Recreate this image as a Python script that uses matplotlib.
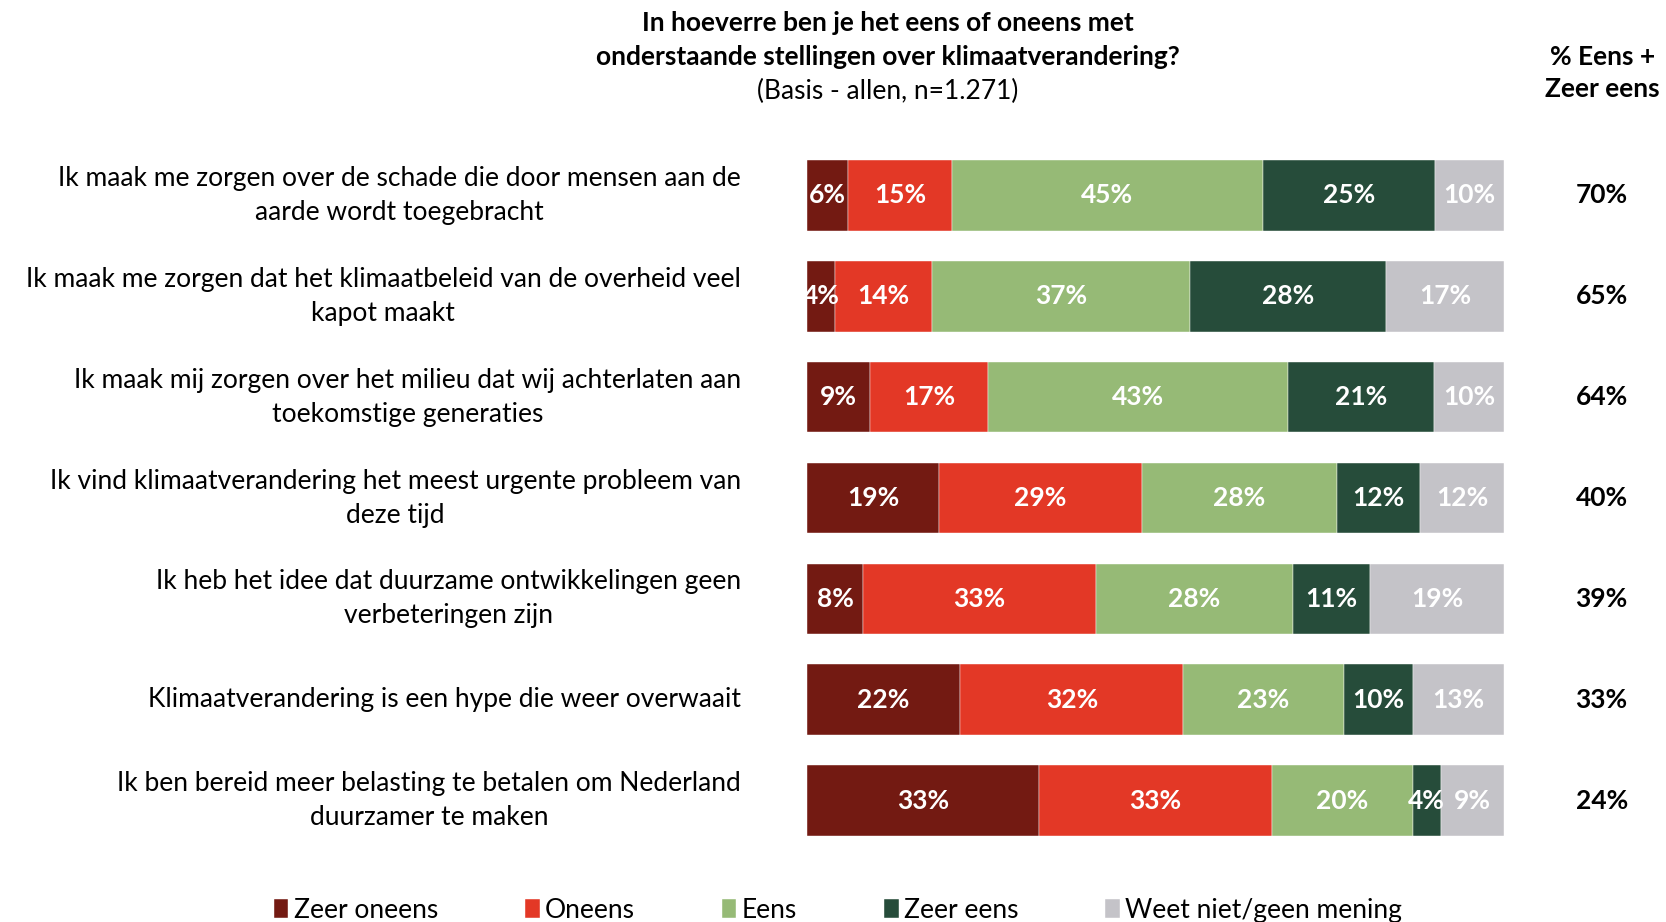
import numpy as np
import matplotlib.pyplot as plt
import matplotlib.transforms as mtransforms

statements = [
    "Ik maak me zorgen over de schade die door mensen aan de\naarde wordt toegebracht",
    "Ik maak me zorgen dat het klimaatbeleid van de overheid veel\nkapot maakt",
    "Ik maak mij zorgen over het milieu dat wij achterlaten aan\ntoekomstige generaties",
    "Ik vind klimaatverandering het meest urgente probleem van\ndeze tijd",
    "Ik heb het idee dat duurzame ontwikkelingen geen\nverbeteringen zijn",
    "Klimaatverandering is een hype die weer overwaait",
    "Ik ben bereid meer belasting te betalen om Nederland\nduurzamer te maken",
]
categories = ["Zeer oneens", "Oneens", "Eens", "Zeer eens", "Weet niet/geen mening"]
zeer_oneens = [6, 4, 9, 19, 8, 22, 33]
oneens = [15, 14, 17, 29, 33, 32, 33]
eens = [45, 37, 43, 28, 28, 23, 20]
zeer_eens = [25, 28, 21, 12, 11, 10, 4]
weet_niet = [10, 17, 10, 12, 19, 13, 9]
eens_totaal = [70, 65, 64, 40, 39, 33, 24]

colors = ["#731A12", "#E33826", "#96BA76", "#264C3A", "#C4C3C8"]

plt.rcParams['font.family'] = ['Lato', 'DejaVu Sans']
FS = 19

data = np.array([zeer_oneens, oneens, eens, zeer_eens, weet_niet], dtype=float)
shares = data / data.sum(axis=0) * 100
y = np.arange(len(statements))

fig = plt.figure(figsize=(16.66, 9.22), dpi=100)
ax = fig.add_axes([0.4844, 0.077, 0.4184, 0.7657])

left = np.zeros(len(statements))
for i, cat in enumerate(categories):
    ax.barh(y, shares[i], left=left, height=0.7, color=colors[i], label=cat,
            edgecolor='white', linewidth=0.3)
    for j in range(len(statements)):
        ax.text(left[j] + shares[i][j] / 2, y[j], f"{int(data[i][j])}%",
                ha='center', va='center', color='white', fontsize=FS,
                fontweight='bold')
    left += shares[i]

ax.set_xlim(0, 100)
ax.set_ylim(len(statements) - 0.5, -0.5)
ax.axis('off')

tr = mtransforms.blended_transform_factory(ax.transAxes, ax.transData)

# labels on the left
for j, s in enumerate(statements):
    ax.text(-0.095, y[j], s, transform=tr, ha='right', va='center',
            fontsize=FS, linespacing=1.45, multialignment='center')

# % eens + zeer eens column
for j, v in enumerate(eens_totaal):
    ax.text(1.14, y[j], f"{v}%", transform=tr, ha='center', va='center',
            fontsize=FS, fontweight='bold')
fig.text(0.9617, 0.938, "% Eens +", ha='center', va='center', fontsize=FS, fontweight='bold')
fig.text(0.9617, 0.903, "Zeer eens", ha='center', va='center', fontsize=FS, fontweight='bold')

fig.text(0.533, 0.975, "In hoeverre ben je het eens of oneens met",
         ha='center', va='center', fontsize=FS, fontweight='bold')
fig.text(0.533, 0.938, "onderstaande stellingen over klimaatverandering?",
         ha='center', va='center', fontsize=FS, fontweight='bold')
fig.text(0.533, 0.901, "(Basis - allen, n=1.271)", ha='center', va='center', fontsize=FS)

handles, labels = ax.get_legend_handles_labels()
fig.legend(handles, labels, loc='center', bbox_to_anchor=(0.503, 0.013), ncol=5,
           frameon=False, fontsize=FS, handlelength=0.55, handleheight=0.75,
           handletextpad=0.2, columnspacing=3.3)

fig.savefig("out.png", dpi=100)
